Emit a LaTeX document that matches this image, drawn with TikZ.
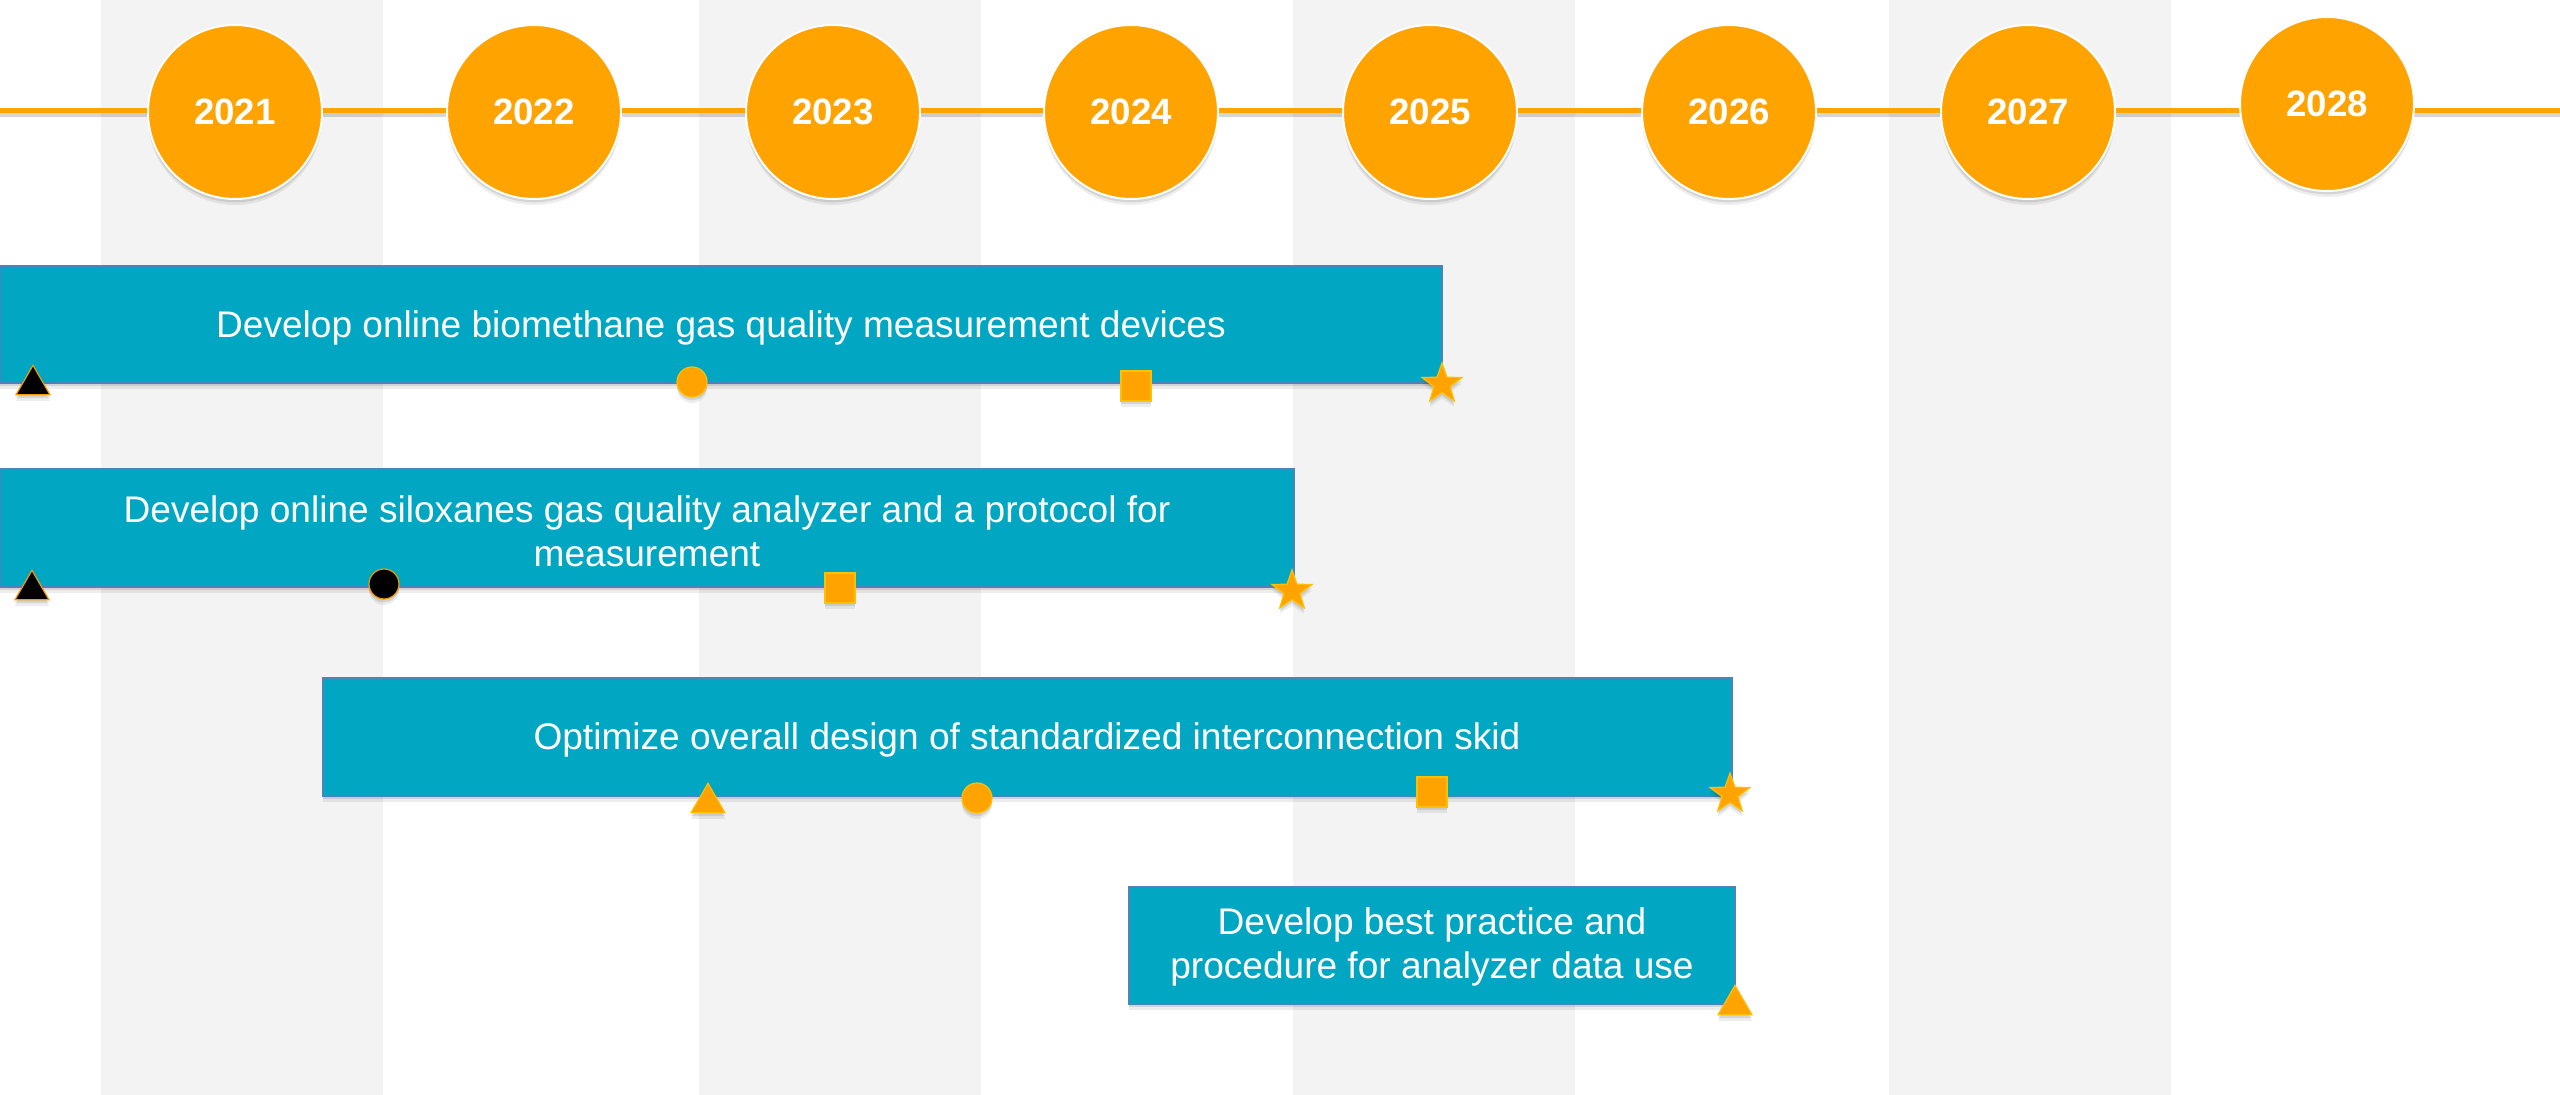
\documentclass[tikz,border=0pt]{standalone}
\usepackage{fontspec}
\setmainfont{Liberation Sans}
\usepackage{tikz}
\usetikzlibrary{positioning,shapes.geometric}

\begin{document}
\begin{tikzpicture}[x=0.75pt,y=0.75pt,yscale=-1,xscale=1,
    dropshade/.style={preaction={fill=black, fill opacity=0.10, draw=none, transform canvas={yshift=-2.5pt}}, preaction={fill=black, fill opacity=0.07, draw=none, transform canvas={yshift=-4.5pt}}},
    band/.style={fill={rgb, 255:red, 243; green, 243; blue, 243 }},
    tline/.style={draw={rgb, 255:red, 255; green, 163; blue, 0 }, line width=3.75pt},
    tlineshade/.style={draw=black, draw opacity=0.16, line width=3pt, transform canvas={yshift=-3pt}},
    year/.style={circle, draw=white, line width=1.5pt, fill={rgb, 255:red, 255; green, 163; blue, 0 }, minimum size=130.5pt, inner sep=0pt, text=white, font=\fontsize{27.5}{32}\selectfont\bfseries, dropshade},
    taskbar/.style={fill={rgb, 255:red, 1; green, 167; blue, 194 }, draw={rgb, 255:red, 79; green, 129; blue, 189 }, line width=0.9pt, dropshade},
    tasktext/.style={text=white, align=center, font=\fontsize{27.8}{33}\selectfont},
    mbase/.style={inner sep=0pt, line width=0.9pt, draw={rgb, 255:red, 255; green, 192; blue, 0 }, fill={rgb, 255:red, 255; green, 163; blue, 0 }, dropshade},
    mblack/.style={fill=black, draw={rgb, 255:red, 245; green, 155; blue, 0 }},
    mtri/.style={mbase, regular polygon, regular polygon sides=3, minimum size=29.5pt},
    mdot/.style={mbase, circle, minimum size=22.5pt},
    msq/.style={mbase, rectangle, minimum size=22.5pt},
    mstar/.style={mbase, star, star points=5, star point ratio=2.5, minimum size=31.5pt}
]
\useasboundingbox (0,0) rectangle (2560,1095);
\fill[white] (0,0) rectangle (2560,1095);

%Year bands
\foreach \bx in {101,699,1293,1889}
    \fill[band] (\bx,0) rectangle ++(282,1095);

%Time line
\coordinate (tl-start) at (0,111);
\coordinate (tl-end) at (2560,111);
\draw[tlineshade] (tl-start) -- (tl-end);
\draw[tline] (tl-start) -- (tl-end);

%Year circles
\foreach \yr/\cx/\cy in {2021/235/112, 2022/534/112, 2023/833/112, 2024/1131/112, 2025/1430/112, 2026/1729/112, 2027/2028/112, 2028/2327/104}
    \node[year] (y\yr) at (\cx,\cy) {\yr};

%Task bar 1
\draw[taskbar] (0,266) rectangle (1442,383);
\node[tasktext] (task1) at (721,328) {Develop online biomethane gas quality measurement devices};
\node[mtri, mblack] (b1-tri) at (33,385) {};
\node[mdot] (b1-dot) at (692,382) {};
\node[msq] (b1-sq) at (1136,386) {};
\node[mstar] (b1-star) at (1442,384) {};

%Task bar 2
\draw[taskbar] (0,469) rectangle (1294,587);
\node[tasktext] (task2) at (647,531) {Develop online siloxanes gas quality analyzer and a protocol for\\measurement};
\node[mtri, mblack] (b2-tri) at (32,590) {};
\node[mdot, mblack] (b2-dot) at (384,584) {};
\node[msq] (b2-sq) at (840,588) {};
\node[mstar] (b2-star) at (1292,591) {};

%Task bar 3
\draw[taskbar] (323,678) rectangle (1732,796);
\node[tasktext] (task3) at (1027,740) {Optimize overall design of standardized interconnection skid};
\node[mtri] (b3-tri) at (708,803) {};
\node[mdot] (b3-dot) at (977,798) {};
\node[msq] (b3-sq) at (1432,792) {};
\node[mstar] (b3-star) at (1730,794) {};

%Task bar 4
\draw[taskbar] (1129,887) rectangle (1735,1004);
\node[tasktext] (task4) at (1432,947) {Develop best practice and\\procedure for analyzer data use};
\node[mtri] (b4-tri) at (1735,1005) {};
\end{tikzpicture}
\end{document}
